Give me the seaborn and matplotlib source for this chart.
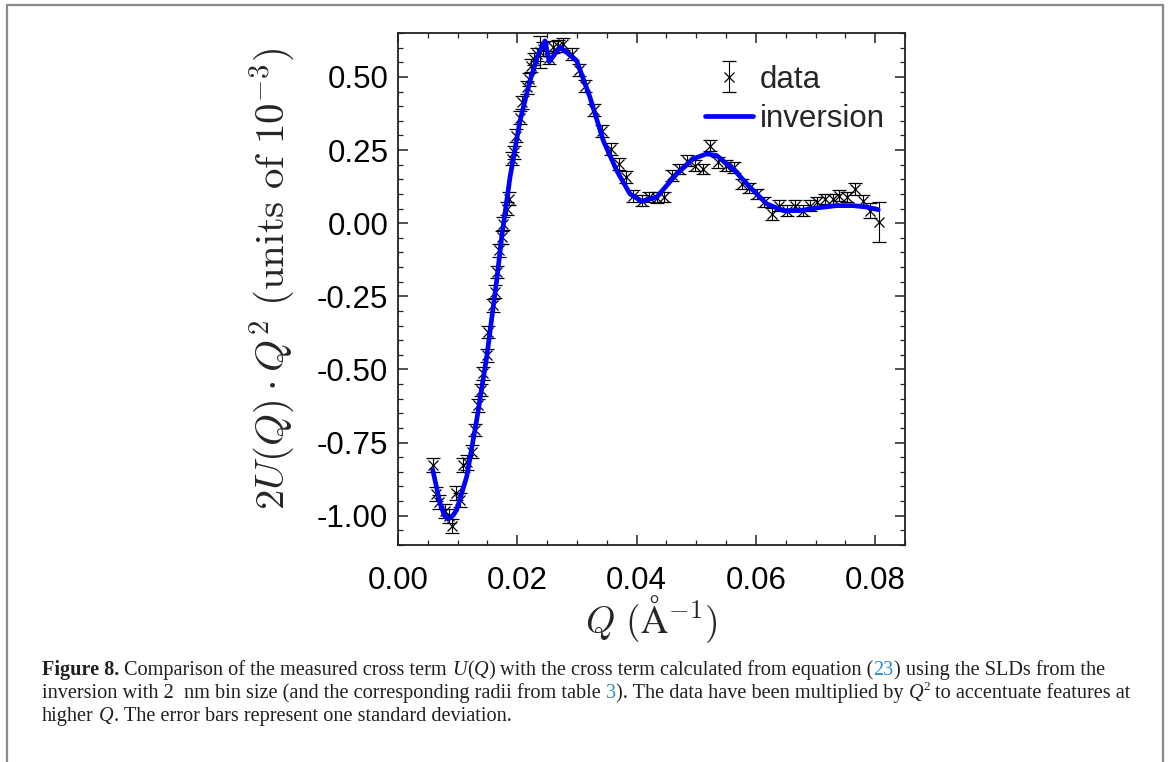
import numpy as np
import pandas as pd
import seaborn as sns
import matplotlib
matplotlib.use('Agg')
import matplotlib.pyplot as plt
from matplotlib.lines import Line2D
from matplotlib.ticker import MultipleLocator, FormatStrFormatter

# measured data, 2U(Q) * Q^2 in units of 1e-3
q_data = [0.00582, 0.00637, 0.00692, 0.00788, 0.0086, 0.0090, 0.00972, 0.0104, 0.01095, 0.01162,
          0.01236, 0.01291, 0.01346, 0.01386, 0.0143, 0.01487, 0.01514, 0.01588, 0.01626, 0.01665,
          0.01698, 0.01738, 0.01765, 0.01822, 0.01861, 0.01906, 0.01945, 0.01978, 0.02045, 0.02084,
          0.02158, 0.02201, 0.02225, 0.0228, 0.02325, 0.0238, 0.02436, 0.02536, 0.02604, 0.02687,
          0.02771, 0.02912, 0.0304, 0.03135, 0.03286, 0.03415, 0.03566, 0.0371, 0.03823, 0.03945,
          0.04086, 0.04213, 0.04337, 0.04459, 0.04588, 0.04716, 0.0485, 0.04979, 0.05108, 0.0523,
          0.0537, 0.05499, 0.05633, 0.05762, 0.05889, 0.06013, 0.06136, 0.06265, 0.06392, 0.06526,
          0.06656, 0.06785, 0.06907, 0.07019, 0.07158, 0.07287, 0.07398, 0.07522, 0.07661, 0.07801,
          0.07913, 0.08069]
y_data = [-0.826, -0.925, -0.953, -0.985, -1.0, -1.036, -0.921, -0.945, -0.826, -0.818,
          -0.781, -0.707, -0.622, -0.570, -0.513, -0.451, -0.372, -0.281, -0.235, -0.167,
          -0.093, -0.048, -0.002, 0.049, 0.083, 0.220, 0.242, 0.299, 0.361, 0.413,
          0.464, 0.492, 0.538, 0.561, 0.578, 0.585, 0.595, 0.566, 0.602, 0.606,
          0.612, 0.578, 0.523, 0.469, 0.387, 0.316, 0.254, 0.203, 0.157, 0.094,
          0.077, 0.089, 0.087, 0.089, 0.163, 0.185, 0.214, 0.197, 0.185, 0.265,
          0.208, 0.197, 0.191, 0.134, 0.121, 0.100, 0.072, 0.032, 0.060, 0.043,
          0.060, 0.043, 0.060, 0.072, 0.083, 0.083, 0.094, 0.089, 0.117, 0.077,
          0.043, 0.003]
y_err = [0.024, 0.024, 0.024, 0.024, 0.024, 0.024, 0.024, 0.024, 0.024, 0.024,
         0.022, 0.022, 0.022, 0.022, 0.022, 0.022, 0.022, 0.022, 0.022, 0.022,
         0.022, 0.022, 0.022, 0.022, 0.022, 0.022, 0.022, 0.022, 0.022, 0.022,
         0.022, 0.022, 0.022, 0.022, 0.022, 0.055, 0.025, 0.022, 0.022, 0.02,
         0.02, 0.02, 0.02, 0.02, 0.02, 0.02, 0.02, 0.02, 0.02, 0.02,
         0.02, 0.018, 0.018, 0.018, 0.018, 0.018, 0.018, 0.018, 0.018, 0.018,
         0.018, 0.018, 0.018, 0.018, 0.018, 0.018, 0.018, 0.02, 0.018, 0.018,
         0.018, 0.018, 0.018, 0.018, 0.018, 0.018, 0.018, 0.018, 0.02, 0.02,
         0.025, 0.068]

# inversion curve
q_fit = [0.00582, 0.00704, 0.0078, 0.00843, 0.0092, 0.00984, 0.01152, 0.01319, 0.01487, 0.01655,
         0.01738, 0.01878, 0.02045, 0.02213, 0.02352, 0.02464, 0.02536, 0.02716, 0.02996, 0.03219,
         0.03442, 0.03666, 0.03889, 0.04086, 0.04337, 0.04672, 0.0495, 0.05175, 0.05343, 0.05621,
         0.05901, 0.06181, 0.06459, 0.06739, 0.07019, 0.07354, 0.07633, 0.07857, 0.08052]
y_fit = [-0.843, -0.957, -1.0, -1.011, -1.0, -0.98, -0.866, -0.673, -0.457, -0.195,
         -0.048, 0.157, 0.350, 0.487, 0.578, 0.623, 0.552, 0.602, 0.555, 0.430,
         0.282, 0.180, 0.100, 0.075, 0.089, 0.168, 0.220, 0.237, 0.231, 0.185,
         0.123, 0.066, 0.043, 0.043, 0.052, 0.060, 0.060, 0.055, 0.046]

sns.set_theme(style='ticks')
plt.rcParams['font.family'] = ['Liberation Sans', 'DejaVu Sans']
plt.rcParams['mathtext.fontset'] = 'cm'
plt.rcParams['axes.unicode_minus'] = False

W, H = 1170, 762
fig = plt.figure(figsize=(W / 100, H / 100), dpi=100)
ax = fig.add_axes([398 / W, 1 - 545 / H, 507 / W, 512 / H])

eb = ax.errorbar(q_data, y_data, yerr=y_err, fmt='x', color='black', ms=6.5, mew=0.9,
                 elinewidth=0.8, capsize=4.8, capthick=0.9, zorder=2)
fit = pd.DataFrame({'Q': q_fit, 'U': y_fit})
sns.lineplot(data=fit, x='Q', y='U', sort=False, color='#0000ff', lw=3.4, ax=ax, zorder=3)
line = ax.lines[-1]

ax.set_xlim(0, 0.085)
ax.set_ylim(-1.1, 0.65)
ax.xaxis.set_major_locator(MultipleLocator(0.02))
ax.xaxis.set_minor_locator(MultipleLocator(0.005))
ax.yaxis.set_major_locator(MultipleLocator(0.25))
ax.yaxis.set_minor_locator(MultipleLocator(0.05))
ax.xaxis.set_major_formatter(FormatStrFormatter('%.2f'))
ax.yaxis.set_major_formatter(FormatStrFormatter('%.2f'))
ax.tick_params(which='both', direction='in', top=True, right=True, color='#222222',
               labelsize=22.5, labelcolor='black')
ax.tick_params(which='major', length=7, width=1.1)
ax.tick_params(which='minor', length=3.5, width=0.9)
ax.tick_params(axis='x', which='major', pad=15)
ax.tick_params(axis='y', which='major', pad=7)
for s in ax.spines.values():
    s.set_linewidth(1.3)
    s.set_color('#222222')

ax.set_xlabel(r'$Q\ (\mathrm{\AA}^{-1})$', fontsize=27, labelpad=-2)
ax.set_ylabel(r'$2U(Q)\cdot Q^2\ (\mathrm{units\ of\ }10^{-3})$', fontsize=29.5)
ax.yaxis.set_label_coords(-0.2, 0.52)

ax.legend([eb, line], ['data', 'inversion'], loc='upper right', bbox_to_anchor=(0.997, 0.975),
          frameon=False, fontsize=22.5, handlelength=1.55, handletextpad=0.2, labelspacing=0.3,
          borderaxespad=0.2)

# page border
gray = '#8a8a8a'
fig.add_artist(Line2D([7 / W, 1163 / W], [1 - 5 / H, 1 - 5 / H], transform=fig.transFigure, color=gray, lw=1.6))
fig.add_artist(Line2D([7 / W, 7 / W], [0, 1 - 5 / H], transform=fig.transFigure, color=gray, lw=1.6))
fig.add_artist(Line2D([1163 / W, 1163 / W], [0, 1 - 5 / H], transform=fig.transFigure, color=gray, lw=1.6))

# caption
ink = '#231f20'
link = '#2b8fcb'
lines = [
    [('Figure 8.', 'bold'), (' Comparison of the measured cross term ', 'normal'), ('U', 'italic'),
     ('(', 'normal'), ('Q', 'italic'), (')', 'normal'),
     (' with the cross term calculated from equation (', 'normal'), ('23', 'link'),
     (') using the SLDs from the', 'normal')],
    [('inversion with 2  nm bin size (and the corresponding radii from table ', 'normal'), ('3', 'link'),
     ('). The data have been multiplied by ', 'normal'), ('Q', 'italic'), ('2', 'sup'),
     (' to accentuate features at', 'normal')],
    [('higher ', 'normal'), ('Q', 'italic'), ('. The error bars represent one standard deviation.', 'normal')],
]
renderer = fig.canvas.get_renderer()
cap_size = 14.6
cap_font = 'Liberation Serif'


def width_px(s):
    t = fig.text(0, 0, s, fontsize=cap_size, family=cap_font)
    w = t.get_window_extent(renderer).width
    t.remove()
    return w


space = width_px('x x') - width_px('xx')

baselines = [675, 698, 721]
for segs, yb in zip(lines, baselines):
    x = 42
    for text, kind in segs:
        lead = len(text) - len(text.lstrip(' '))
        trail = len(text) - len(text.rstrip(' '))
        body = text.strip(' ')
        x += lead * space
        kw = dict(fontsize=cap_size, family=cap_font, color=ink, va='baseline', ha='left')
        yy = yb
        if kind == 'bold':
            kw['weight'] = 'bold'
        elif kind == 'italic':
            kw['style'] = 'italic'
        elif kind == 'link':
            kw['color'] = link
        elif kind == 'sup':
            kw['fontsize'] = cap_size * 0.65
            yy = yb - 8
        t = fig.text(x / W, 1 - yy / H, body, **kw)
        x += t.get_window_extent(renderer).width
        x += trail * space

fig.savefig('out.png', dpi=100)
